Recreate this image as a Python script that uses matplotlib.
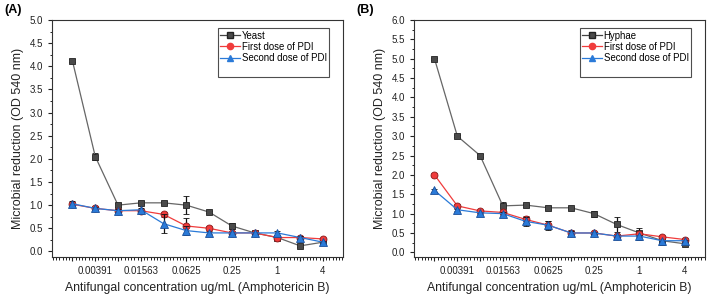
import numpy as np
import matplotlib
matplotlib.use("Agg")
import matplotlib.pyplot as plt
from matplotlib.lines import Line2D
from matplotlib.ticker import FixedLocator, FixedFormatter

plt.rcParams['font.family'] = ['Liberation Sans', 'DejaVu Sans']

conc = [0.00195, 0.00391, 0.00781, 0.01563, 0.03125, 0.0625, 0.125, 0.25, 0.5, 1, 2, 4]
tick_labels = ['', '0.00391', '', '0.01563', '', '0.0625', '', '0.25', '', '1', '', '4']

# panel A - yeast
yeast = [4.12, 2.05, 1.00, 1.05, 1.05, 1.00, 0.85, 0.55, 0.40, 0.30, 0.12, 0.20]
yeast_err = [0.03, 0.07, 0.05, 0.03, 0.03, 0.20, 0.03, 0.06, 0.03, 0.03, 0.03, 0.03]
yeast_pdi1 = [1.02, 0.93, 0.88, 0.88, 0.80, 0.55, 0.50, 0.40, 0.40, 0.30, 0.30, 0.27]
yeast_pdi1_err = [0.04, 0.05, 0.03, 0.03, 0.06, 0.18, 0.05, 0.03, 0.03, 0.03, 0.03, 0.03]
yeast_pdi2 = [1.03, 0.93, 0.88, 0.90, 0.60, 0.45, 0.40, 0.40, 0.40, 0.40, 0.30, 0.20]
yeast_pdi2_err = [0.05, 0.03, 0.03, 0.03, 0.20, 0.10, 0.03, 0.03, 0.03, 0.05, 0.03, 0.03]

# panel B - hyphae
hyphae = [5.00, 3.00, 2.50, 1.20, 1.22, 1.15, 1.15, 1.00, 0.72, 0.50, 0.30, 0.22]
hyphae_err = [0.03, 0.03, 0.03, 0.10, 0.04, 0.04, 0.03, 0.08, 0.20, 0.05, 0.12, 0.04]
hyphae_pdi1 = [2.00, 1.20, 1.07, 1.03, 0.85, 0.70, 0.50, 0.50, 0.42, 0.48, 0.40, 0.33]
hyphae_pdi1_err = [0.04, 0.04, 0.03, 0.03, 0.10, 0.12, 0.08, 0.03, 0.05, 0.15, 0.04, 0.04]
hyphae_pdi2 = [1.60, 1.10, 1.02, 1.00, 0.80, 0.70, 0.50, 0.50, 0.42, 0.42, 0.30, 0.30]
hyphae_pdi2_err = [0.03, 0.03, 0.03, 0.03, 0.12, 0.10, 0.06, 0.03, 0.03, 0.03, 0.03, 0.03]

grey = '#4a4a4a'
red = '#f03c3c'
blue = '#2a7ad8'

fig = plt.figure(figsize=(7.09, 2.96), dpi=100)
axA = fig.add_axes([0.0733, 0.1318, 0.4105, 0.8006])
axB = fig.add_axes([0.584, 0.1318, 0.4104, 0.8006])


def draw(ax, first, first_err, d1, d1_err, d2, d2_err, name, ytop):
    ax.errorbar(conc, first, yerr=first_err, color='#666666', lw=0.9, marker='s', ms=5,
                mfc=grey, mec='#222222', mew=0.6, ecolor='#111111', elinewidth=0.9,
                capsize=2, zorder=3)
    ax.errorbar(conc, d1, yerr=d1_err, color=red, lw=0.9, marker='o', ms=5,
                mfc=red, mec='#8a1a1a', mew=0.6, ecolor='#111111', elinewidth=0.9,
                capsize=2, zorder=4)
    ax.errorbar(conc, d2, yerr=d2_err, color=blue, lw=0.9, marker='^', ms=5.5,
                mfc=blue, mec='#1a4f9a', mew=0.6, ecolor='#111111', elinewidth=0.9,
                capsize=2, zorder=5)
    ax.set_xscale('log', base=2)
    ax.set_xlim(2 ** -9.9, 2 ** 2.88)
    ax.set_ylim(-0.12, ytop)
    ax.xaxis.set_major_locator(FixedLocator(conc))
    ax.xaxis.set_major_formatter(FixedFormatter(tick_labels))
    minor = [2 ** (k + j / 7) for k in range(-10, 3) for j in range(1, 7)]
    ax.xaxis.set_minor_locator(FixedLocator(minor))
    ax.xaxis.set_minor_formatter(FixedFormatter([''] * len(minor)))
    ax.set_yticks(np.arange(0, ytop + 0.01, 0.5))
    ax.set_yticks(np.arange(0.25, ytop, 0.5), minor=True)
    ax.tick_params(axis='both', which='major', direction='out', length=3, width=0.8,
                   labelsize=7, colors='#222222')
    ax.tick_params(axis='both', which='minor', direction='out', length=1.8, width=0.6)
    ax.yaxis.set_major_formatter(plt.FormatStrFormatter('%.1f'))
    for s in ax.spines.values():
        s.set_linewidth(0.8)
        s.set_color('#333333')
    ax.set_xlabel('Antifungal concentration ug/mL (Amphotericin B)', fontsize=8.8,
                  labelpad=4, color='#222222')
    ax.set_ylabel('Microbial reduction (OD 540 nm)', fontsize=9, labelpad=4,
                  color='#222222')

    handles = [
        Line2D([], [], color='#444444', marker='s', ms=4.5, mfc=grey, mec='#222222', lw=0.9),
        Line2D([], [], color=red, marker='o', ms=4.5, mfc=red, mec=red, lw=0.9),
        Line2D([], [], color=blue, marker='^', ms=5, mfc=blue, mec=blue, lw=0.9),
        Line2D([], [], color='none'),
    ]
    leg = ax.legend(handles, [name, 'First dose of PDI', 'Second dose of PDI', ' '],
                    loc='upper right', bbox_to_anchor=(0.952, 0.965), fontsize=6.9,
                    frameon=True, fancybox=False, handlelength=2.0, handletextpad=0.2,
                    labelspacing=0.12, borderpad=0.25, borderaxespad=0)
    leg.get_frame().set_edgecolor('#222222')
    leg.get_frame().set_linewidth(0.8)


draw(axA, yeast, yeast_err, yeast_pdi1, yeast_pdi1_err, yeast_pdi2, yeast_pdi2_err,
     'Yeast', 5.0)
draw(axB, hyphae, hyphae_err, hyphae_pdi1, hyphae_pdi1_err, hyphae_pdi2, hyphae_pdi2_err,
     'Hyphae', 6.0)

fig.text(0.006, 0.965, '(A)', fontsize=9, fontweight='bold', va='center')
fig.text(0.503, 0.965, '(B)', fontsize=9, fontweight='bold', va='center')

fig.savefig('out.png', dpi=100)
